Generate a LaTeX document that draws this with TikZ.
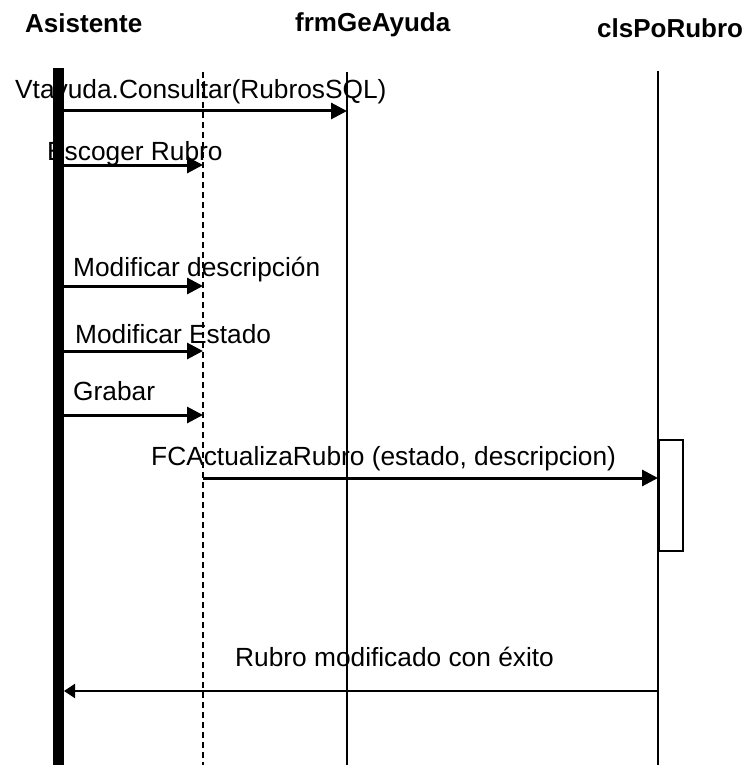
\documentclass[tikz,border=0pt]{standalone}
\usepackage{fontspec}
\setmainfont{Liberation Sans}
\usetikzlibrary{arrows.meta}
\begin{document}
\begin{tikzpicture}[x=1pt,y=-1pt,
  lbl/.style={anchor=base west, inner sep=0pt, font=\fontsize{26.3}{30}\selectfont},
  head/.style={anchor=base west, inner sep=0pt, font=\fontsize{26}{30}\selectfont\bfseries},
  life/.style={line width=2.2pt},
  dashlife/.style={line width=2.2pt, dash pattern=on 6pt off 4pt},
  msg/.style={line width=3pt, -{Triangle[length=16pt,width=16pt]}},
  ret/.style={line width=2.2pt, -{Triangle[length=11pt,width=14pt]}},
  actbox/.style={draw, fill=white, line width=2.2pt, inner sep=0pt, minimum width=24pt, minimum height=111pt, anchor=north west},
  bar/.style={fill=black, inner sep=0pt, minimum width=11pt, minimum height=697pt, anchor=north}
]
\useasboundingbox (0,0) rectangle (750,765);

% headings
\node[head] (hA) at (25,33) {Asistente};
\node[head] (hF) at (295,32) {frmGeAyuda};
\node[head] (hC) at (597,38) {clsPoRubro};

% lifelines
\node[bar] (bar) at (58.5,68) {};
\coordinate (dTop) at (203,72);
\coordinate (dBot) at (203,765);
\coordinate (fTop) at (347,72);
\coordinate (fBot) at (347,765);
\coordinate (cTop) at (658,71);
\coordinate (cBot) at (658,765);
\draw[dashlife] (dTop) -- (dBot);
\draw[life] (fTop) -- (fBot);
\draw[life] (cTop) -- (cBot);

% activation box
\node[actbox] (act) at (658,439) {};

% message end points
\coordinate (a1) at (64,111);  \coordinate (f1) at (347,111);
\coordinate (a2) at (64,165);  \coordinate (d2) at (203,165);
\coordinate (a3) at (64,286);  \coordinate (d3) at (203,286);
\coordinate (a4) at (64,351);  \coordinate (d4) at (203,351);
\coordinate (a5) at (64,415);  \coordinate (d5) at (203,415);
\coordinate (d6) at (203,478); \coordinate (c6) at (658,478);
\coordinate (c7) at (658,691); \coordinate (a7) at (64,691);

\draw[msg] (a1) -- (f1);
\draw[msg] (a2) -- (d2);
\draw[msg] (a3) -- (d3);
\draw[msg] (a4) -- (d4);
\draw[msg] (a5) -- (d5);
\draw[msg] (d6) -- (c6);
\draw[ret] (c7) -- (a7);

% labels
\node[lbl] (l1) at (15,99) {Vtayuda.Consultar(RubrosSQL)};
\node[lbl] (l2) at (47,160) {Escoger Rubro};
\node[lbl] (l3) at (73,276) {Modificar descripción};
\node[lbl] (l4) at (75,343) {Modificar Estado};
\node[lbl] (l5) at (73,400) {Grabar};
\node[lbl] (l6) at (151,465) {FCActualizaRubro (estado, descripcion)};
\node[lbl] (l7) at (235,666) {Rubro modificado con éxito};
\end{tikzpicture}
\end{document}
